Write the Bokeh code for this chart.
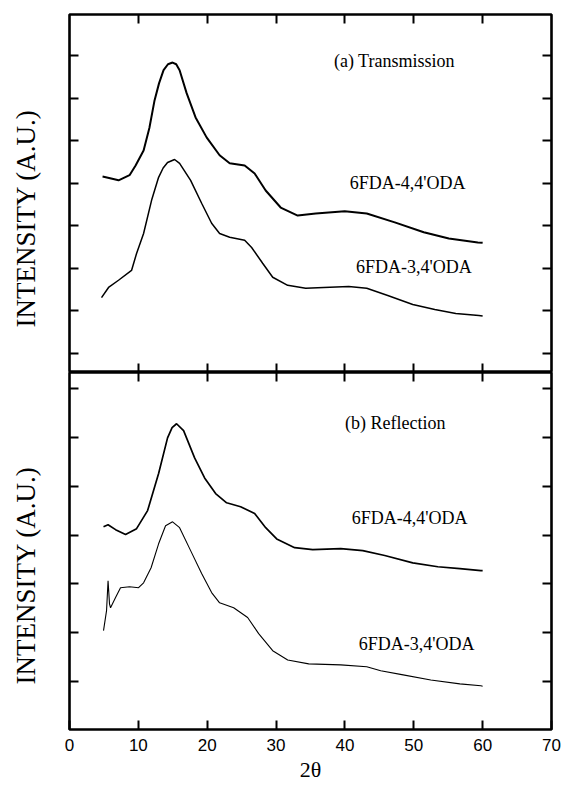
import numpy as np
from bokeh.plotting import figure
from bokeh.models import Range1d, LinearAxis, FixedTicker, Label, Title
from bokeh.layouts import column
from bokeh.embed import file_html
from bokeh.resources import INLINE

# ---------------- data ----------------
# (a) Transmission, 6FDA-4,4'ODA
ta44_x = [4.80, 5.9, 7.12, 8.72, 9.6, 10.76, 11.6, 12.35, 13.0, 13.66, 14.3, 14.97, 15.5,
          15.99, 17.01, 18.31, 19.91, 21.80, 23.26, 25.44, 26.89, 28.49, 30.67,
          33.14, 35.76, 39.97, 43.17, 47.24, 51.45, 55.09, 59.30, 60.0]
ta44_y = [4.16, 4.12, 4.07, 4.19, 4.42, 4.77, 5.30, 5.95, 6.35, 6.66, 6.80, 6.84, 6.80,
          6.66, 6.12, 5.55, 5.08, 4.66, 4.47, 4.42, 4.23, 3.83, 3.43,
          3.24, 3.29, 3.34, 3.29, 3.08, 2.85, 2.70, 2.61, 2.60]
# (a) Transmission, 6FDA-3,4'ODA
ta34_x = [4.65, 5.67, 7.12, 9.01, 9.74, 10.76, 11.92, 12.94, 13.6, 14.24, 15.26, 15.99,
          17.59, 19.19, 20.64, 21.80, 23.26, 25.44, 26.45, 28.05, 29.51, 31.69,
          34.30, 36.92, 40.55, 43.17, 46.22, 49.85, 53.05, 56.10, 59.45, 60.0]
ta34_y = [1.31, 1.55, 1.72, 1.95, 2.35, 2.82, 3.60, 4.14, 4.36, 4.49, 4.56, 4.47,
          4.07, 3.53, 3.06, 2.82, 2.73, 2.66, 2.49, 2.12, 1.79, 1.60,
          1.53, 1.55, 1.57, 1.53, 1.36, 1.15, 1.03, 0.94, 0.89, 0.88]
# (b) Reflection, 6FDA-4,4'ODA
rb44_x = [4.94, 5.60, 6.69, 8.14, 9.74, 11.34, 12.94, 14.24, 14.9, 15.55, 16.57, 18.17,
          19.62, 21.22, 22.82, 24.85, 26.89, 28.49, 30.09, 32.70, 35.32, 39.39,
          42.59, 45.78, 49.85, 53.49, 56.69, 59.74, 60.0]
rb44_y = [3.17, 3.21, 3.11, 3.01, 3.13, 3.50, 4.26, 4.99, 5.20, 5.28, 5.14, 4.58,
          4.17, 3.85, 3.66, 3.58, 3.44, 3.15, 2.92, 2.74, 2.70, 2.72,
          2.68, 2.58, 2.43, 2.35, 2.31, 2.27, 2.27]
# (b) Reflection, 6FDA-3,4'ODA
rb34_x = [4.94, 5.38, 5.60, 5.81, 5.96, 6.69, 7.41, 8.72, 10.03, 10.76, 11.85,
          12.94, 13.95, 14.97, 15.99, 17.59, 19.19, 20.64, 21.80, 23.84, 25.87,
          27.47, 29.51, 31.69, 34.74, 39.39, 43.17, 45.20, 48.26, 52.47, 56.69,
          59.74, 60.0]
rb34_y = [1.04, 1.45, 2.06, 1.59, 1.51, 1.72, 1.92, 1.94, 1.92, 2.02, 2.33,
          2.82, 3.19, 3.27, 3.15, 2.68, 2.21, 1.82, 1.61, 1.51, 1.31,
          0.98, 0.63, 0.44, 0.36, 0.34, 0.30, 0.22, 0.14, 0.03, -0.05,
          -0.09, -0.10]

x_ticks = [0, 10, 20, 30, 40, 50, 60, 70]
x_inner_ticks = [10, 20, 30, 40, 50, 60]
top_y_ticks = [0, 1, 2, 3, 4, 5, 6, 7]
bot_y_ticks = [0, 1, 2, 3, 4, 5, 6]

SERIF = "Liberation Serif"
SANS = "Liberation Sans"


def style_axis(ax, ticks, show_labels=False):
    ax.ticker = FixedTicker(ticks=ticks)
    ax.major_tick_in = 9
    ax.major_tick_out = 0
    ax.minor_tick_in = 0
    ax.minor_tick_out = 0
    ax.major_tick_line_width = 2
    ax.major_tick_line_color = "black"
    ax.axis_line_color = None
    if not show_labels:
        ax.major_label_overrides = {t: "" for t in ticks}
        ax.major_label_standoff = 0
        ax.major_label_text_font_size = "1px"


def make_panel(yr, yticks, fh, top_border, bottom_border, bottom_labels):
    p = figure(frame_width=482, frame_height=fh,
               x_range=Range1d(0, 70), y_range=Range1d(*yr),
               x_axis_location=None, y_axis_location=None,
               output_backend="svg", toolbar_location=None,
               min_border_left=69, min_border_right=11,
               min_border_top=top_border, min_border_bottom=bottom_border)
    p.grid.visible = False
    p.outline_line_color = "black"
    p.outline_line_width = 2.6
    p.background_fill_color = "white"
    p.border_fill_color = "white"

    left = LinearAxis(); style_axis(left, yticks); p.add_layout(left, "left")
    right = LinearAxis(); style_axis(right, yticks); p.add_layout(right, "right")
    above = LinearAxis(); style_axis(above, x_inner_ticks); p.add_layout(above, "above")
    below = LinearAxis()
    if bottom_labels:
        style_axis(below, x_ticks, show_labels=True)
        below.major_label_standoff = 9
        below.major_label_text_font = SANS
        below.major_label_text_font_size = "17px"
        below.major_label_text_color = "black"
        below.axis_label = "2θ"
        below.axis_label_text_font = SERIF
        below.axis_label_text_font_style = "normal"
        below.axis_label_text_font_size = "22px"
        below.axis_label_standoff = 3
        below.axis_label_text_color = "black"
    else:
        style_axis(below, x_inner_ticks)
    p.add_layout(below, "below")

    # empty spacer between the axis and the vertical label
    spacer = Title(text="\u00a0", standoff=26, text_font_size="1px")
    p.add_layout(spacer, "left")
    ylab = Title(text="INTENSITY (A.U.)", align="left", offset=45, standoff=0,
                 vertical_align="bottom",
                 text_font=SERIF, text_font_size="27px", text_font_style="normal",
                 text_color="black")
    p.add_layout(ylab, "left")
    return p


def add_text(p, x, y, txt):
    p.add_layout(Label(x=x, y=y, text=txt, text_font=SERIF, text_font_size="18px",
                       text_align="left", text_baseline="middle", text_color="black"))


p1 = make_panel((-0.45, 7.97), top_y_ticks, 358, 14, 0, False)
p1.line(ta44_x, ta44_y, line_color="black", line_width=2.0)
p1.line(ta34_x, ta34_y, line_color="black", line_width=1.5)
add_text(p1, 38.4, 6.87, "(a) Transmission")
add_text(p1, 40.7, 4.00, "6FDA-4,4'ODA")
add_text(p1, 41.6, 2.04, "6FDA-3,4'ODA")

p2 = make_panel((-0.985, 6.33), bot_y_ticks, 357, 0, 60, True)
p2.line(rb44_x, rb44_y, line_color="black", line_width=1.7)
p2.line(rb34_x, rb34_y, line_color="black", line_width=1.1)
add_text(p2, 40.0, 5.30, "(b) Reflection")
add_text(p2, 41.0, 3.35, "6FDA-4,4'ODA")
add_text(p2, 42.0, 0.77, "6FDA-3,4'ODA")

layout = column(p1, p2, spacing=0)
open("out.html", "w").write(file_html(layout, INLINE))
